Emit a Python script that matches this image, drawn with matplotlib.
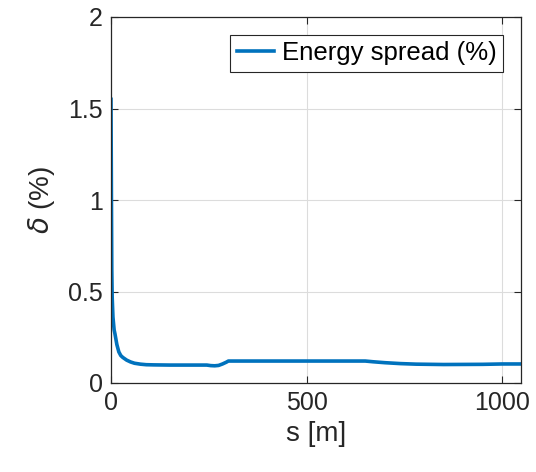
import numpy as np
import matplotlib
matplotlib.use("Agg")
import matplotlib.pyplot as plt

plt.rcParams['font.family'] = ['Liberation Sans', 'DejaVu Sans']

# Energy spread along the line
s_m = [0, 1, 2, 3, 5, 8, 10, 15, 20, 25, 30, 40, 50, 60, 75, 90, 110, 150, 200, 245,
       255, 265, 275, 285, 295, 300, 350, 450, 550, 650, 670, 700, 740, 780, 850,
       950, 1000, 1048]
spread_pct = [1.55, 1.05, 0.62, 0.47, 0.36, 0.29, 0.27, 0.21, 0.17, 0.15, 0.14, 0.125,
              0.115, 0.108, 0.103, 0.1, 0.099, 0.098, 0.098, 0.098,
              0.095, 0.094, 0.096, 0.104, 0.114, 0.12, 0.12, 0.12, 0.12, 0.12,
              0.116, 0.111, 0.106, 0.103, 0.101, 0.102, 0.104, 0.104]

fig = plt.figure(figsize=(5.36, 4.72), dpi=100)
ax = fig.add_axes([111/536, 1 - 383/472, 410/536, 366/472])

ax.plot(s_m, spread_pct, color='#0072BD', lw=2.6, label='Energy spread (%)')

ax.set_xlim(0, 1048)
ax.set_ylim(0, 2)
ax.set_xticks([0, 500, 1000])
ax.set_yticks([0, 0.5, 1, 1.5, 2])
ax.set_yticklabels(['0', '0.5', '1', '1.5', '2'])
ax.grid(True, color='#dcdcdc', lw=0.8)
ax.set_axisbelow(True)
ax.tick_params(direction='in', length=5, width=0.8, labelsize=18, colors='#262626',
               top=True, right=True, labelcolor='#262626', pad=6)
for sp in ax.spines.values():
    sp.set_color('#262626')
    sp.set_linewidth(0.9)

ax.set_xlabel('s [m]', fontsize=20, labelpad=4, color='#262626')
ax.set_ylabel(r'$\delta$ (%)', fontsize=20, labelpad=8, color='#262626')

leg = ax.legend(loc='upper right', fontsize=18.5, frameon=True, fancybox=False,
                handlelength=1.45, borderaxespad=0.7, borderpad=0.25, handletextpad=0.3)
leg.get_frame().set_edgecolor('#262626')
leg.get_frame().set_linewidth(0.8)
leg.get_frame().set_alpha(1)

fig.savefig('out.png', dpi=100)
